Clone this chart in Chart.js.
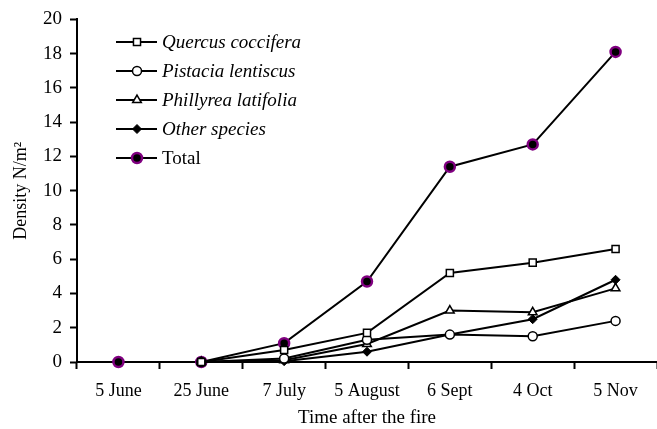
<!DOCTYPE html>
<html>
<head>
<meta charset="utf-8">
<script src="https://cdn.jsdelivr.net/npm/chart.js@4"></script>
<style>
  html, body { margin: 0; padding: 0; background: #fff; }
  #wrap { width: 657px; height: 429px; }
</style>
</head>
<body>
<div id="wrap"><canvas id="densityChart" width="657" height="429"></canvas></div>
<script>
    // Data
    var dates = ["5 June", "25 June", "7 July", "5 August", "6 Sept", "4 Oct", "5 Nov"];
    var quercus = [null, 0, 0.7, 1.7, 5.2, 5.8, 6.6];
    var pistacia = [null, 0, 0.2, 1.3, 1.6, 1.5, 2.4];
    var phillyrea = [null, 0, 0.1, 1.05, 3.0, 2.9, 4.3];
    var other = [null, 0, 0.05, 0.6, 1.6, 2.5, 4.8];
    var total = [0, 0, 1.1, 4.7, 11.4, 12.7, 18.1];
    var yTicks = [0, 2, 4, 6, 8, 10, 12, 14, 16, 18, 20];

    var serif = "'Liberation Serif', 'Times New Roman', serif";

    // legend drawn inside the plot, top-left
    var boxLegend = {
        id: 'boxLegend',
        afterDraw: function (chart) {
            var ctx = chart.ctx;
            var x0 = 116, y0 = 42, gap = 29;
            chart.data.datasets.forEach(function (ds, i) {
                var y = y0 + i * gap;
                ctx.save();
                ctx.strokeStyle = '#000';
                ctx.lineWidth = 2;
                ctx.beginPath();
                ctx.moveTo(x0, y);
                ctx.lineTo(x0 + 41, y);
                ctx.stroke();
                ctx.fillStyle = ds.pointBackgroundColor;
                ctx.strokeStyle = ds.pointBorderColor;
                ctx.lineWidth = ds.pointBorderWidth;
                Chart.helpers.drawPoint(ctx, {
                    pointStyle: ds.pointStyle,
                    radius: ds.pointRadius,
                    borderWidth: ds.pointBorderWidth,
                    rotation: 0
                }, x0 + 21, y);
                ctx.fillStyle = '#000';
                ctx.font = (ds.label === 'Total' ? '' : 'italic ') + '19px ' + serif;
                ctx.textBaseline = 'middle';
                ctx.textAlign = 'left';
                ctx.fillText(ds.label, x0 + 46, y + 1);
                ctx.restore();
            });
        }
    };

    function series(label, data, style, radius, fill, border, bw) {
        return {
            label: label,
            data: data,
            borderColor: '#000',
            borderWidth: 2,
            pointStyle: style,
            pointRadius: radius,
            pointHoverRadius: radius,
            pointBackgroundColor: fill,
            pointBorderColor: border,
            pointBorderWidth: bw,
            tension: 0,
            spanGaps: false,
            clip: false
        };
    }

    var ctxD = document.getElementById('densityChart').getContext('2d');
    new Chart(ctxD, {
        type: 'line',
        data: {
            labels: dates,
            datasets: [
                series('Quercus coccifera', quercus, 'rect', 5, '#fff', '#000', 1.5),
                series('Pistacia lentiscus', pistacia, 'circle', 4.5, '#fff', '#000', 1.5),
                series('Phillyrea latifolia', phillyrea, 'triangle', 5, '#fff', '#000', 1.5),
                series('Other species', other, 'rectRot', 4.5, '#000', '#000', 1),
                series('Total', total, 'circle', 5, '#000', '#800080', 2.5)
            ]
        },
        options: {
            responsive: false,
            animation: false,
            layout: { autoPadding: false, padding: { top: 19, right: 0, left: 0, bottom: 0 } },
            plugins: {
                legend: { display: false },
                tooltip: { enabled: false }
            },
            scales: {
                x: {
                    type: 'category',
                    offset: true,
                    afterFit: function (axis) {
                        axis.height = 67;
                        axis.paddingLeft = 0;
                        axis.paddingRight = 0;
                    },
                    grid: {
                        offset: true,
                        drawOnChartArea: false,
                        drawTicks: true,
                        tickLength: 7,
                        tickWidth: 2,
                        tickColor: '#000',
                        color: '#000'
                    },
                    border: { display: true, color: '#000', width: 2 },
                    ticks: {
                        color: '#000',
                        font: { family: serif, size: 18 },
                        maxRotation: 0,
                        autoSkip: false,
                        padding: 11
                    },
                    title: {
                        display: true,
                        text: 'Time after the fire',
                        color: '#000',
                        font: { family: serif, size: 19 },
                        padding: { top: 0, bottom: 0 }
                    }
                },
                y: {
                    min: 0,
                    max: 20,
                    afterFit: function (axis) { axis.width = 77; },
                    afterBuildTicks: function (axis) {
                        axis.ticks = yTicks.map(function (v) { return { value: v }; });
                    },
                    grid: {
                        drawOnChartArea: false,
                        drawTicks: true,
                        tickLength: 7,
                        tickWidth: 2,
                        tickColor: '#000'
                    },
                    border: { display: true, color: '#000', width: 2 },
                    ticks: {
                        color: '#000',
                        font: { family: serif, size: 19 },
                        padding: 8
                    },
                    title: {
                        display: true,
                        text: 'Density N/m\u00B2',
                        color: '#000',
                        font: { family: serif, size: 18 },
                        padding: { top: 10, bottom: 0 }
                    }
                }
            }
        },
        plugins: [boxLegend]
    });
</script>
</body>
</html>
